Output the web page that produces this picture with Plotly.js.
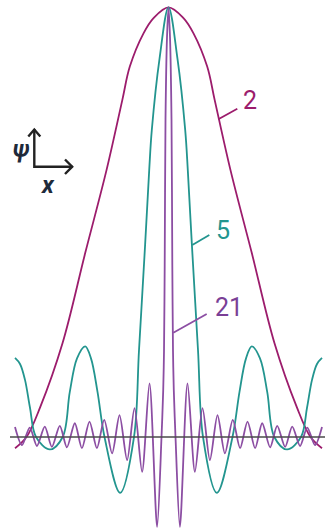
<!DOCTYPE html>
<html>
<head>
<meta charset="utf-8">
<script src="https://cdn.plot.ly/plotly-3.0.1.min.js"></script>
<style>
html,body{margin:0;padding:0;background:#fff;}
#chart{width:325px;height:532px;}
</style>
</head>
<body>
<div id="chart"></div>
<script>
// Wave-packet curves (x in arbitrary units, psi normalised to peak = 1)
const xN2 = [-10.0, -9.251, -8.352, -6.906, -5.427, -4.039, -3.010, -2.521, -1.629, -0.977, 0, 0.977, 1.629, 2.521, 3.010, 4.039, 5.427, 6.906, 8.352, 9.251, 10.0];
const psiN2 = [-0.026, 0, 0.070, 0.218, 0.428, 0.621, 0.784, 0.862, 0.9395, 0.975, 1.0, 0.975, 0.9395, 0.862, 0.784, 0.621, 0.428, 0.218, 0.070, 0, -0.026];

const xN5 = [-10.0, -9.674, -9.349, -9.023, -8.632, -7.726, -6.893, -6.43, -5.96, -5.427, -5.05, -4.625, -4.169, -3.147, -2.248, -1.922, -1.524, -1.257, -1.088, -0.586, 0,
             0.586, 1.088, 1.257, 1.524, 1.922, 2.248, 3.147, 4.169, 4.625, 5.05, 5.427, 5.96, 6.43, 6.893, 7.726, 8.632, 9.023, 9.349, 9.674, 10.0];
const psiN5 = [0.184, 0.170, 0.133, 0.068, 0, -0.029, 0, 0.105, 0.183, 0.211, 0.183, 0.105, 0, -0.130, 0, 0.202, 0.447, 0.621, 0.714, 0.88, 1.0,
               0.88, 0.714, 0.621, 0.447, 0.202, 0, -0.130, 0, 0.105, 0.183, 0.211, 0.183, 0.105, 0, -0.029, 0, 0.068, 0.133, 0.170, 0.184];

const xN21 = [-10.0, -9.550, -9.036, -8.573, -8.059, -7.596, -7.081, -6.619, -6.104, -5.642, -5.147, -4.664, -4.189, -3.674, -3.192, -2.697, -2.215, -1.720, -1.238, -0.743, -0.456, -0.345, -0.293, -0.248, -0.195, -0.098, 0,
              0.098, 0.195, 0.248, 0.293, 0.345, 0.456, 0.743, 1.238, 1.720, 2.215, 2.697, 3.192, 3.674, 4.189, 4.664, 5.147, 5.642, 6.104, 6.619, 7.081, 7.596, 8.059, 8.573, 9.036, 9.550, 10.0];
const psiN21 = [0.023, -0.019, 0.022, -0.021, 0.024, -0.023, 0.026, -0.024, 0.032, -0.026, 0.036, -0.026, 0.040, -0.038, 0.051, -0.054, 0.067, -0.081, 0.125, -0.209, 0, 0.109, 0.20, 0.40, 0.74, 0.93, 1.0,
                0.93, 0.74, 0.40, 0.20, 0.109, 0, -0.209, 0.125, -0.081, 0.067, -0.054, 0.051, -0.038, 0.040, -0.026, 0.036, -0.026, 0.032, -0.024, 0.026, -0.023, 0.024, -0.021, 0.022, -0.019, 0.023];

const curveLabels = ['2', '5', '21'];
const colN2 = '#9c1c6c', colN5 = '#23958f', colN21 = '#8c4ea3';

// pixel -> paper helpers for decorations (plot area: left 10px, full height)
const W = 325, H = 532, L = 10;
const px = v => (v - L) / (W - L);
const py = v => 1 - v / H;

const traces = [
  {x: xN2, y: psiN2, mode: 'lines', line: {color: colN2, width: 1.8, shape: 'spline', smoothing: 1}, hoverinfo: 'skip'},
  {x: xN5, y: psiN5, mode: 'lines', line: {color: colN5, width: 1.8, shape: 'spline', smoothing: 1}, hoverinfo: 'skip'},
  {x: xN21, y: psiN21, mode: 'lines', line: {color: colN21, width: 1.8, shape: 'spline', smoothing: 0.8}, hoverinfo: 'skip'}
];

const seg = (x0, y0, x1, y1, color, width) => ({type: 'line', xref: 'paper', yref: 'paper',
  x0: px(x0), y0: py(y0), x1: px(x1), y1: py(y1), line: {color: color, width: width}, layer: 'above'});
const path = (pts, color, width) => ({type: 'path', xref: 'paper', yref: 'paper',
  path: 'M ' + pts.map(p => px(p[0]) + ',' + py(p[1])).join(' L '), line: {color: color, width: width}, layer: 'above'});

const shapes = [
  // baseline
  {type: 'line', xref: 'paper', yref: 'y', x0: 0, x1: 1, y0: 0, y1: 0, line: {color: '#4a4a4a', width: 1.5}, layer: 'above'},
  // leader lines
  seg(218.3, 119.3, 237.3, 108.7, colN2, 1.8),
  seg(192.3, 245, 209.3, 235, colN5, 1.8),
  seg(173.3, 332.7, 206.7, 314, colN21, 1.8),
  // psi / x axis icon
  path([[34.3, 129], [34.3, 166.7], [72.5, 166.7]], '#222', 2.4),
  path([[28.3, 136.5], [34.3, 129.5], [40.3, 136.5]], '#222', 2.4),
  path([[65, 159.5], [72.2, 166.7], [65, 174]], '#222', 2.4)
];

const ann = (txt, x, y, color, size, extra) => Object.assign({text: txt, xref: 'paper', yref: 'paper',
  x: px(x), y: py(y), xanchor: 'center', yanchor: 'middle', showarrow: false,
  font: {family: 'Roboto, Arial, sans-serif', size: size, color: color}}, extra || {});

const annotations = [
  ann(curveLabels[0], 250.3, 100.5, colN2, 25),
  ann(curveLabels[1], 223.3, 230.5, colN5, 25),
  ann(curveLabels[2], 228.7, 307, '#7a3f96', 25),
  ann('<b><i>ψ</i></b>', 21, 150, '#1e2a3a', 23),
  ann('<b><i>x</i></b>', 47.5, 185, '#1e2a3a', 24)
];

const layout = {
  width: W, height: H,
  margin: {l: L, r: 0, t: 0, b: 0, pad: 0},
  paper_bgcolor: '#ffffff', plot_bgcolor: '#ffffff',
  showlegend: false,
  xaxis: {range: [-10.326, 10.195], visible: false, fixedrange: true},
  yaxis: {range: [-0.2211, 1.017], visible: false, fixedrange: true},
  shapes: shapes,
  annotations: annotations
};

Plotly.newPlot('chart', traces, layout, {staticPlot: true, displayModeBar: false});
</script>
</body>
</html>
